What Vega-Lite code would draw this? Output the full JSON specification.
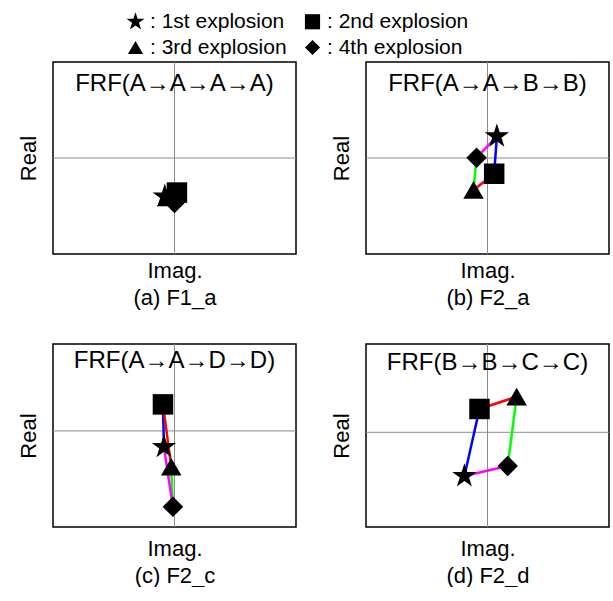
{
  "$schema": "https://vega.github.io/schema/vega-lite/v6.json",
  "padding": {"left": 16, "top": 11, "right": 0, "bottom": 0},
  "background": "white",
  "datasets": {
    "pts": [
      {"panel": "a", "exp": "1st explosion", "x": -0.08, "y": -0.40},
      {"panel": "a", "exp": "2nd explosion", "x": 0.02, "y": -0.36},
      {"panel": "a", "exp": "3rd explosion", "x": -0.06, "y": -0.41},
      {"panel": "a", "exp": "4th explosion", "x": 0.0, "y": -0.47},
      {"panel": "b", "exp": "1st explosion", "x": 0.077, "y": 0.226},
      {"panel": "b", "exp": "2nd explosion", "x": 0.055, "y": -0.164},
      {"panel": "b", "exp": "3rd explosion", "x": -0.115, "y": -0.333},
      {"panel": "b", "exp": "4th explosion", "x": -0.09, "y": 0.003},
      {"panel": "c", "exp": "1st explosion", "x": -0.087, "y": -0.175},
      {"panel": "c", "exp": "2nd explosion", "x": -0.095, "y": 0.29},
      {"panel": "c", "exp": "3rd explosion", "x": -0.027, "y": -0.39},
      {"panel": "c", "exp": "4th explosion", "x": -0.013, "y": -0.83},
      {"panel": "d", "exp": "1st explosion", "x": -0.19, "y": -0.478},
      {"panel": "d", "exp": "2nd explosion", "x": -0.066, "y": 0.255},
      {"panel": "d", "exp": "3rd explosion", "x": 0.24, "y": 0.39},
      {"panel": "d", "exp": "4th explosion", "x": 0.166, "y": -0.368}
    ],
    "segs": [
      {"panel": "a", "link": "1st→2nd", "x": -0.08, "y": -0.40, "x2": 0.02, "y2": -0.36},
      {"panel": "a", "link": "2nd→3rd", "x": 0.02, "y": -0.36, "x2": -0.06, "y2": -0.41},
      {"panel": "a", "link": "3rd→4th", "x": -0.06, "y": -0.41, "x2": 0.0, "y2": -0.47},
      {"panel": "a", "link": "4th→1st", "x": 0.0, "y": -0.47, "x2": -0.08, "y2": -0.40},
      {"panel": "b", "link": "1st→2nd", "x": 0.077, "y": 0.226, "x2": 0.055, "y2": -0.164},
      {"panel": "b", "link": "2nd→3rd", "x": 0.055, "y": -0.164, "x2": -0.115, "y2": -0.333},
      {"panel": "b", "link": "3rd→4th", "x": -0.115, "y": -0.333, "x2": -0.09, "y2": 0.003},
      {"panel": "b", "link": "4th→1st", "x": -0.09, "y": 0.003, "x2": 0.077, "y2": 0.226},
      {"panel": "c", "link": "1st→2nd", "x": -0.087, "y": -0.175, "x2": -0.095, "y2": 0.29},
      {"panel": "c", "link": "2nd→3rd", "x": -0.095, "y": 0.29, "x2": -0.027, "y2": -0.39},
      {"panel": "c", "link": "3rd→4th", "x": -0.027, "y": -0.39, "x2": -0.013, "y2": -0.83},
      {"panel": "c", "link": "4th→1st", "x": -0.013, "y": -0.83, "x2": -0.087, "y2": -0.175},
      {"panel": "d", "link": "1st→2nd", "x": -0.19, "y": -0.478, "x2": -0.066, "y2": 0.255},
      {"panel": "d", "link": "2nd→3rd", "x": -0.066, "y": 0.255, "x2": 0.24, "y2": 0.39},
      {"panel": "d", "link": "3rd→4th", "x": 0.24, "y": 0.39, "x2": 0.166, "y2": -0.368},
      {"panel": "d", "link": "4th→1st", "x": 0.166, "y": -0.368, "x2": -0.19, "y2": -0.478}
    ]
  },
  "vconcat": [
    {
      "hconcat": [
        {
          "width": 243, "height": 192,
          "layer": [
            {"data": {"values": [{}]}, "mark": {"type": "rule", "color": "#8c8c8c", "strokeWidth": 1},
             "encoding": {"x": {"datum": 0, "type": "quantitative", "scale": {"domain": [-1, 1], "nice": false, "zero": false}, "axis": {"title": ["Imag.", "(a) F1_a"]}}}},
            {"data": {"values": [{}]}, "mark": {"type": "rule", "color": "#8c8c8c", "strokeWidth": 1},
             "encoding": {"y": {"datum": 0, "type": "quantitative", "scale": {"domain": [-1, 1], "nice": false, "zero": false}, "axis": {"title": "Real"}}}},
            {"data": {"name": "segs"}, "transform": [{"filter": "datum.panel === 'a'"}], "mark": {"type": "rule", "strokeWidth": 2.5},
             "encoding": {"x": {"field": "x", "type": "quantitative"}, "y": {"field": "y", "type": "quantitative"}, "x2": {"field": "x2"}, "y2": {"field": "y2"},
               "color": {"field": "link", "type": "nominal", "scale": {"domain": ["1st→2nd", "2nd→3rd", "3rd→4th", "4th→1st"], "range": ["#0000ff", "#ff0000", "#00ff00", "#ff00ff"]}, "legend": null}}},
            {"data": {"name": "pts"}, "transform": [{"filter": "datum.panel === 'a'"}], "mark": {"type": "point", "filled": true, "opacity": 1, "color": "black", "size": 420},
             "encoding": {"x": {"field": "x", "type": "quantitative"}, "y": {"field": "y", "type": "quantitative"},
               "shape": {"field": "exp", "type": "nominal", "scale": {"domain": ["1st explosion", "2nd explosion", "3rd explosion", "4th explosion"], "range": ["M0,-1.25L0.281,-0.386L1.189,-0.386L0.454,0.148L0.735,1.011L0,0.478L-0.735,1.011L-0.454,0.148L-1.189,-0.386L-0.281,-0.386Z", "square", "triangle-up", "diamond"]},
                 "legend": {"orient": "none", "legendX": 72, "legendY": -51, "columns": 2, "direction": "horizontal", "title": null, "labelExpr": "': ' + datum.label", "labelFont": "Liberation Sans", "labelFontSize": 21, "labelColor": "black", "symbolSize": 230, "symbolFillColor": "black", "symbolStrokeColor": "black", "symbolStrokeWidth": 0, "labelOffset": 4, "columnPadding": 15, "rowPadding": 4}}}},
            {"data": {"values": [{}]}, "mark": {"type": "text", "font": "Liberation Sans", "fontSize": 24, "color": "black", "baseline": "middle"},
             "encoding": {"x": {"datum": 0, "type": "quantitative"}, "y": {"datum": 0.77, "type": "quantitative"}, "text": {"value": "FRF(A→A→A→A)"}}}
          ]
        },
        {
          "width": 243, "height": 192,
          "layer": [
            {"data": {"values": [{}]}, "mark": {"type": "rule", "color": "#8c8c8c", "strokeWidth": 1},
             "encoding": {"x": {"datum": 0, "type": "quantitative", "scale": {"domain": [-1, 1], "nice": false, "zero": false}, "axis": {"title": ["Imag.", "(b) F2_a"]}}}},
            {"data": {"values": [{}]}, "mark": {"type": "rule", "color": "#8c8c8c", "strokeWidth": 1},
             "encoding": {"y": {"datum": 0, "type": "quantitative", "scale": {"domain": [-1, 1], "nice": false, "zero": false}, "axis": {"title": "Real"}}}},
            {"data": {"name": "segs"}, "transform": [{"filter": "datum.panel === 'b'"}], "mark": {"type": "rule", "strokeWidth": 2.5},
             "encoding": {"x": {"field": "x", "type": "quantitative"}, "y": {"field": "y", "type": "quantitative"}, "x2": {"field": "x2"}, "y2": {"field": "y2"},
               "color": {"field": "link", "type": "nominal", "legend": null}}},
            {"data": {"name": "pts"}, "transform": [{"filter": "datum.panel === 'b'"}], "mark": {"type": "point", "filled": true, "opacity": 1, "color": "black", "size": 420},
             "encoding": {"x": {"field": "x", "type": "quantitative"}, "y": {"field": "y", "type": "quantitative"},
               "shape": {"field": "exp", "type": "nominal"}}},
            {"data": {"values": [{}]}, "mark": {"type": "text", "font": "Liberation Sans", "fontSize": 24, "color": "black", "baseline": "middle"},
             "encoding": {"x": {"datum": 0, "type": "quantitative"}, "y": {"datum": 0.77, "type": "quantitative"}, "text": {"value": "FRF(A→A→B→B)"}}}
          ]
        }
      ]
    },
    {
      "hconcat": [
        {
          "width": 243, "height": 183,
          "layer": [
            {"data": {"values": [{}]}, "mark": {"type": "rule", "color": "#8c8c8c", "strokeWidth": 1},
             "encoding": {"x": {"datum": 0, "type": "quantitative", "scale": {"domain": [-1, 1], "nice": false, "zero": false}, "axis": {"title": ["Imag.", "(c) F2_c"], "titlePadding": 11}}}},
            {"data": {"values": [{}]}, "mark": {"type": "rule", "color": "#8c8c8c", "strokeWidth": 1},
             "encoding": {"y": {"datum": 0, "type": "quantitative", "scale": {"domain": [-1.05, 0.95], "nice": false, "zero": false}, "axis": {"title": "Real"}}}},
            {"data": {"name": "segs"}, "transform": [{"filter": "datum.panel === 'c'"}], "mark": {"type": "rule", "strokeWidth": 2.5},
             "encoding": {"x": {"field": "x", "type": "quantitative"}, "y": {"field": "y", "type": "quantitative"}, "x2": {"field": "x2"}, "y2": {"field": "y2"},
               "color": {"field": "link", "type": "nominal", "legend": null}}},
            {"data": {"name": "pts"}, "transform": [{"filter": "datum.panel === 'c'"}], "mark": {"type": "point", "filled": true, "opacity": 1, "color": "black", "size": 420},
             "encoding": {"x": {"field": "x", "type": "quantitative"}, "y": {"field": "y", "type": "quantitative"},
               "shape": {"field": "exp", "type": "nominal"}}},
            {"data": {"values": [{}]}, "mark": {"type": "text", "font": "Liberation Sans", "fontSize": 24, "color": "black", "baseline": "middle"},
             "encoding": {"x": {"datum": 0, "type": "quantitative"}, "y": {"datum": 0.76, "type": "quantitative"}, "text": {"value": "FRF(A→A→D→D)"}}}
          ]
        },
        {
          "width": 243, "height": 183,
          "layer": [
            {"data": {"values": [{}]}, "mark": {"type": "rule", "color": "#8c8c8c", "strokeWidth": 1},
             "encoding": {"x": {"datum": 0, "type": "quantitative", "scale": {"domain": [-1, 1], "nice": false, "zero": false}, "axis": {"title": ["Imag.", "(d) F2_d"], "titlePadding": 11}}}},
            {"data": {"values": [{}]}, "mark": {"type": "rule", "color": "#8c8c8c", "strokeWidth": 1},
             "encoding": {"y": {"datum": 0, "type": "quantitative", "scale": {"domain": [-1.035, 0.965], "nice": false, "zero": false}, "axis": {"title": "Real"}}}},
            {"data": {"name": "segs"}, "transform": [{"filter": "datum.panel === 'd'"}], "mark": {"type": "rule", "strokeWidth": 2.5},
             "encoding": {"x": {"field": "x", "type": "quantitative"}, "y": {"field": "y", "type": "quantitative"}, "x2": {"field": "x2"}, "y2": {"field": "y2"},
               "color": {"field": "link", "type": "nominal", "legend": null}}},
            {"data": {"name": "pts"}, "transform": [{"filter": "datum.panel === 'd'"}], "mark": {"type": "point", "filled": true, "opacity": 1, "color": "black", "size": 420},
             "encoding": {"x": {"field": "x", "type": "quantitative"}, "y": {"field": "y", "type": "quantitative"},
               "shape": {"field": "exp", "type": "nominal"}}},
            {"data": {"values": [{}]}, "mark": {"type": "text", "font": "Liberation Sans", "fontSize": 24, "color": "black", "baseline": "middle"},
             "encoding": {"x": {"datum": 0, "type": "quantitative"}, "y": {"datum": 0.76, "type": "quantitative"}, "text": {"value": "FRF(B→B→C→C)"}}}
          ]
        }
      ]
    }
  ],
  "spacing": 33,
  "config": {
    "concat": {"spacing": 31},
    "view": {"stroke": "black", "strokeWidth": 1.5},
    "axis": {"domain": false, "ticks": false, "labels": false, "grid": false, "titleFont": "Liberation Sans", "titleFontSize": 22, "titleFontWeight": "normal", "titleColor": "black", "titleLineHeight": 27},
    "axisX": {"titlePadding": 6},
    "axisY": {"titlePadding": 13},
    "text": {"font": "Liberation Sans"}
  }
}
